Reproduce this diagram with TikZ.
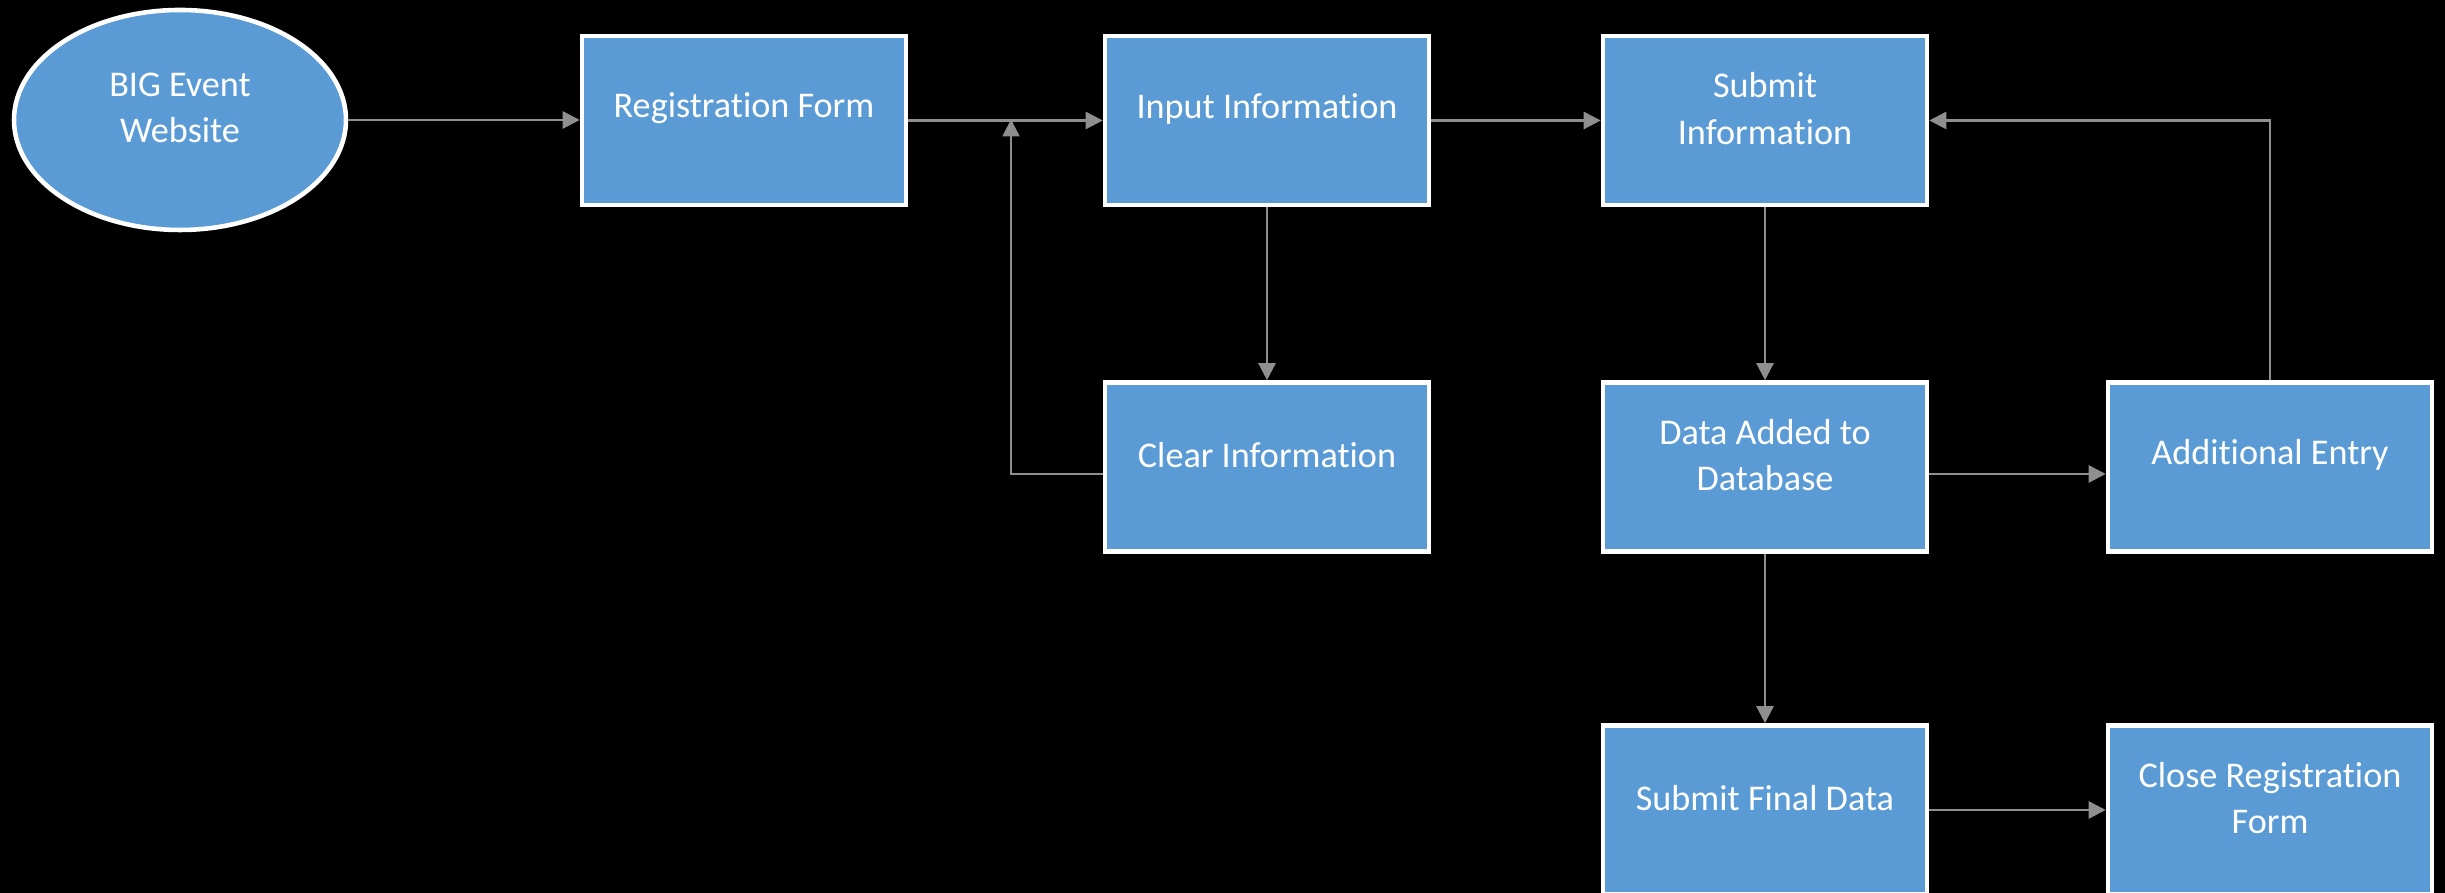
\documentclass[tikz,border=0pt]{standalone}
\usepackage{fontspec}
\setmainfont{Carlito}[Ligatures={NoCommon},Contextuals={NoAlternate}]
\usetikzlibrary{shapes.geometric,arrows.meta}

\definecolor{boxblue}{HTML}{5B9BD5}
\definecolor{linegray}{HTML}{8F8F8F}

\tikzset{
  stage/.style={draw=white, line width=1.3pt, fill=boxblue,
    minimum width=3.24cm, minimum height=1.69cm},
  site/.style={ellipse, draw=white, line width=1.3pt, fill=boxblue,
    minimum width=3.32cm, minimum height=2.2cm},
  txt/.style={text=white, align=center, yshift=0.12cm,
    font=\fontsize{10.3}{13.3}\selectfont},
  flow/.style={draw=linegray, line width=0.7pt,
    -{Triangle[length=0.17cm,width=0.17cm]}}
}

\begin{document}
\begin{tikzpicture}
\useasboundingbox (0,0) rectangle (24.45,8.93);
\fill[black] (0,0) rectangle (24.45,8.93);

% top row
\node[site, label={[txt]center:BIG Event\\Website}] (web) at (1.80,7.73) {};
\node[stage, label={[txt]center:Registration Form}] (reg) at (7.44,7.725) {};
\node[stage, label={[txt]center:Input Information}] (inp) at (12.67,7.725) {};
\node[stage, label={[txt]center:Submit\\Information}] (sub) at (17.65,7.725) {};

% middle row
\node[stage, label={[txt]center:Clear Information}] (clr) at (12.67,4.26) {};
\node[stage, label={[txt]center:Data Added to\\Database}] (dat) at (17.65,4.26) {};
\node[stage, label={[txt]center:Additional Entry}] (add) at (22.70,4.26) {};

% bottom row
\node[stage, label={[txt]center:Submit Final Data}] (fin) at (17.65,0.83) {};
\node[stage, label={[txt]center:Close Registration\\Form}] (cls) at (22.70,0.83) {};

\coordinate (jn) at (10.11,7.735);

\draw[flow] (web.east) -- (web.east -| reg.west);
\draw[flow] (reg) -- (inp);
\draw[flow] (inp) -- (sub);
\draw[flow] (inp) -- (clr);
\draw[flow] ([yshift=-0.07cm]clr.west) -| (jn);
\draw[flow] (sub) -- (dat);
\draw[flow] ([yshift=-0.07cm]dat.east) -- ([yshift=-0.07cm]add.west);
\draw[flow] (add.north) |- (sub.east);
\draw[flow] (dat) -- (fin);
\draw[flow] (fin) -- (cls);
\end{tikzpicture}
\end{document}
